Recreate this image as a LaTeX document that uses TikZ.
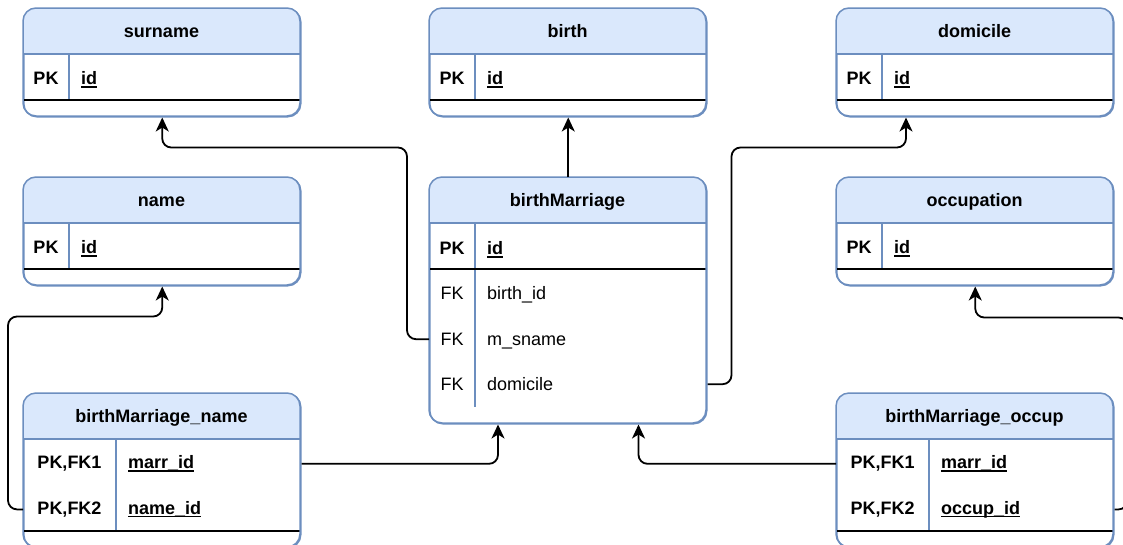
\documentclass[tikz,border=0pt]{standalone}
\usepackage{fontspec}
\setmainfont{Liberation Sans}
\usetikzlibrary{arrows.meta}
\definecolor{tableblue}{HTML}{6C8EBF}
\definecolor{headblue}{HTML}{DAE8FC}
\newcommand{\erfont}{\fontsize{18}{21}\selectfont}
\newcommand{\ulfield}[1]{\setbox0=\hbox{#1}\rlap{\vrule height -1.6pt depth 3.1pt width \wd0}\box0}
\tikzset{tablebox/.style={rectangle,rounded corners=13pt,draw=tableblue,fill=white,
 line width=1.5pt,minimum width=277pt,inner sep=0pt},
 tableline/.style={draw=tableblue,line width=1.5pt},
 keyline/.style={draw=black,line width=1.8pt},
 tabletitle/.style={anchor=base,inner sep=0pt,font=\erfont\bfseries},
 keytext/.style={anchor=base,inner sep=0pt,font=\erfont},
 fieldtext/.style={anchor=base west,inner sep=0pt,font=\erfont},
 link/.style={draw=black,line width=1.8pt,rounded corners=9pt,
 -{Stealth[length=14pt,width=13pt,inset=4pt]}}}
\newcommand{\ertable}[6]{%
 \node[tablebox,minimum height=#3,anchor=north west] (#1) at (0,0) {};
 \begin{scope}
  \clip[rounded corners=13pt] (0,0) rectangle (277,#3);
  \fill[headblue] (0,0) rectangle (277,46);
 \end{scope}
 \draw[tableline] (0,46)--(277,46) (#4,46)--(#4,#6);
 \draw[keyline] (0,#5)--(277,#5);
 \draw[tableline,rounded corners=13pt] (0,0) rectangle (277,#3);
 \node[tabletitle] (#1title) at (138.5,29.5) {#2};}
\newcommand{\pkrow}[5]{%
 \node[keytext,font=\erfont\bfseries] (#1k) at (#3/2,#2) {#4};
 \node[fieldtext,font=\erfont\bfseries] (#1f) at (#3+12,#2) {\ulfield{#5}};}
\newcommand{\fkrow}[5]{%
 \node[keytext] (#1k) at (#3/2,#2) {#4};
 \node[fieldtext] (#1f) at (#3+12,#2) {#5};}
\begin{document}
\begin{tikzpicture}[x=1pt,y=-1pt]
 \useasboundingbox (0,0) rectangle (1123,544);
 % lookup tables
 \begin{scope}[shift={(23,8)}]
  \ertable{surname}{surname}{108}{46}{92}{92}
  \pkrow{surnamepk}{76.5}{46}{PK}{id}
 \end{scope}
 \begin{scope}[shift={(429,8)}]
  \ertable{birth}{birth}{108}{46}{92}{92}
  \pkrow{birthpk}{76.5}{46}{PK}{id}
 \end{scope}
 \begin{scope}[shift={(836,8)}]
  \ertable{domicile}{domicile}{108}{46}{92}{92}
  \pkrow{domicilepk}{76.5}{46}{PK}{id}
 \end{scope}
 \begin{scope}[shift={(23,177)}]
  \ertable{name}{name}{108}{46}{92}{92}
  \pkrow{namepk}{76.5}{46}{PK}{id}
 \end{scope}
 \begin{scope}[shift={(836,177)}]
  \ertable{occupation}{occupation}{108}{46}{92}{92}
  \pkrow{occupationpk}{76.5}{46}{PK}{id}
 \end{scope}
 % main table
 \begin{scope}[shift={(429,177)}]
  \ertable{bm}{birthMarriage}{246}{46}{92}{230}
  \pkrow{bmpk}{77.5}{46}{PK}{id}
  \fkrow{bmbirth}{122.8}{46}{FK}{birth\_id}
  \fkrow{bmsname}{168.4}{46}{FK}{m\_sname}
  \fkrow{bmdom}{213.4}{46}{FK}{domicile}
 \end{scope}
 % link tables
 \begin{scope}[shift={(23,393)}]
  \ertable{bmname}{birthMarriage\_name}{154}{93}{138}{138}
  \pkrow{bmnamem}{75.6}{93}{PK,FK1}{marr\_id}
  \pkrow{bmnamen}{121.3}{93}{PK,FK2}{name\_id}
 \end{scope}
 \begin{scope}[shift={(836,393)}]
  \ertable{bmoccup}{birthMarriage\_occup}{154}{93}{138}{138}
  \pkrow{bmoccupm}{75.6}{93}{PK,FK1}{marr\_id}
  \pkrow{bmoccupo}{121.3}{93}{PK,FK2}{occup\_id}
 \end{scope}
 % references
 \draw[link] (bm.west |- bmsnamek) -- ++(-22,0) |- ([yshift=-30pt]surname.south) -- (surname.south);
 \draw[link] (bm.north) -- (birth.south);
 \draw[link] (bm.east |- bmdomk) -- ++(24,0) |- ([xshift=70pt,yshift=-30pt]domicile.south west)
  -- ([xshift=70pt]domicile.south west);
 \draw[link] (bmname.west |- bmnamenk) -- ++(-15,0) |- ([yshift=-30pt]name.south) -- (name.south);
 \draw[link] (bmname.east |- bmnamemk) -| ([xshift=69pt]bm.south west);
 \draw[link] (bmoccup.west |- bmoccupmk) -| ([xshift=-69pt]bm.south east);
 \draw[link] (bmoccup.east |- bmoccupok) -- ++(13,0) |- ([yshift=-31pt]occupation.south) -- (occupation.south);
\end{tikzpicture}
\end{document}
